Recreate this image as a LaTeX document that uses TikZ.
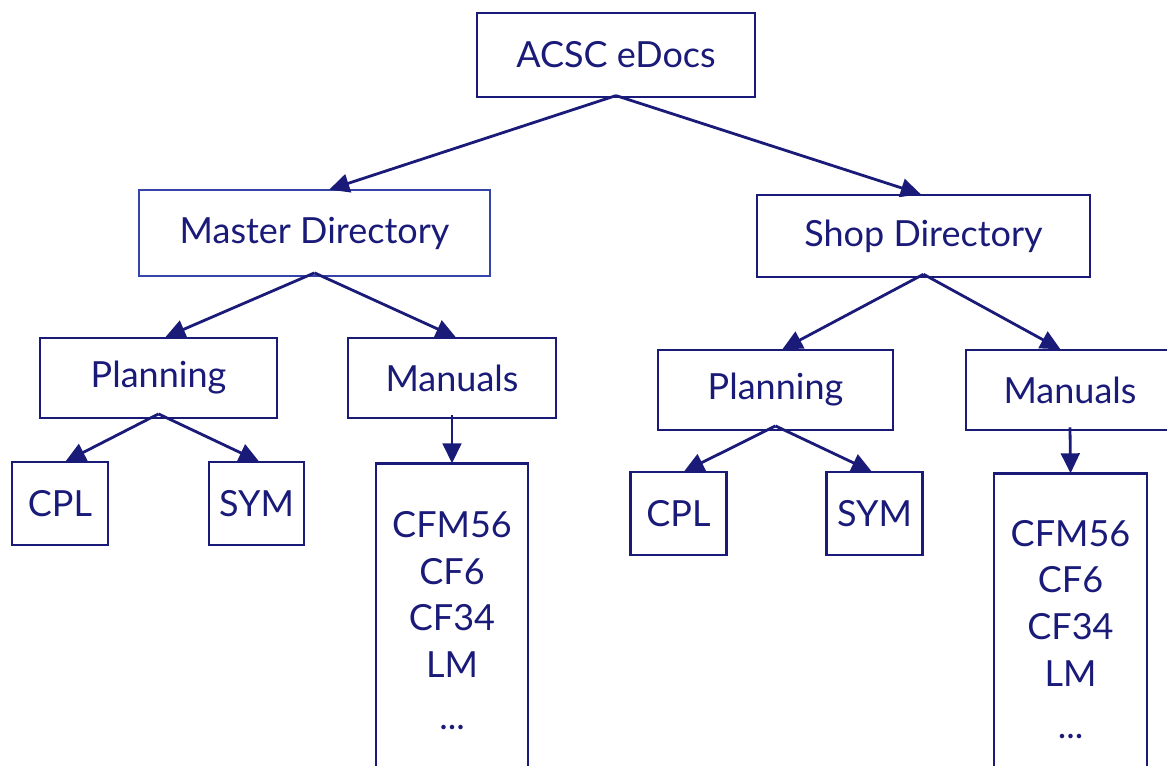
\documentclass[tikz,border=0pt]{standalone}
\usepackage{fontspec}
\setmainfont{Lato}
\usetikzlibrary{arrows.meta}
\definecolor{navy}{RGB}{26,26,120}
\definecolor{lightnavy}{RGB}{52,68,168}
\begin{document}
\begin{tikzpicture}[x=0.75pt,y=0.75pt,yscale=-1,xscale=1,
  box/.style={draw=navy,line width=1.9pt,text=navy,inner sep=0pt,
    font=\fontsize{27}{35}\selectfont},
  arr/.style={draw=navy,line width=2.1pt,-{Triangle[length=15pt,width=14pt]},shorten >=-1pt}]
\path[use as bounding box,clip] (0,0) rectangle (1167,766);

% Top
\node [box,minimum width=208.5pt,minimum height=63pt] (edocs) at (616,55) {ACSC eDocs};
\node [box,draw=lightnavy,line width=1.3pt,minimum width=263pt,minimum height=64.5pt] (master) at (314.5,233) {Master Directory};
\node [box,minimum width=250pt,minimum height=61.5pt] (shop) at (923.5,236) {Shop Directory};

% Master side
\node [box,minimum width=178pt,minimum height=60pt] (planL) at (158.5,378) {Planning};
\node [box,minimum width=156pt,minimum height=60pt] (manL) at (452,378) {Manuals};
\node [box,minimum width=72pt,minimum height=62pt] (cplL) at (60,503.5) {CPL};
\node [box,minimum width=71pt,minimum height=62pt] (symL) at (256.5,503.5) {SYM};
\node [box,align=center,anchor=north,minimum width=114pt,minimum height=236pt] (engL) at (452,462) {CFM56\\CF6\\CF34\\LM\\[4pt]...};

% Shop side
\node [box,minimum width=176pt,minimum height=60pt] (planR) at (775.5,390) {Planning};
\node [box,minimum width=156pt,minimum height=60pt] (manR) at (1070,390) {Manuals};
\node [box,minimum width=72pt,minimum height=62pt] (cplR) at (678.5,513.5) {CPL};
\node [box,minimum width=72pt,minimum height=62pt] (symR) at (874.5,513.5) {SYM};
\node [box,align=center,anchor=north,minimum width=115pt,minimum height=234pt] (engR) at (1070.5,472) {CFM56\\CF6\\CF34\\LM\\[4pt]...};

% Arrows
\draw [arr] ([yshift=-2pt]edocs.south) -- ([xshift=12pt]master.north);
\draw [arr] ([yshift=-2pt]edocs.south) -- ([xshift=-3pt]shop.north);
\draw [arr] ([yshift=-3pt]master.south) -- ([xshift=6pt]planL.north);
\draw [arr] ([yshift=-3pt]master.south) -- ([xshift=2pt]manL.north);
\draw [arr] ([yshift=-4pt]planL.south) -- ([xshift=5pt]cplL.north);
\draw [arr] ([yshift=-4pt]planL.south) -- ([xshift=1pt]symL.north);
\draw [arr] ([yshift=-3pt]manL.south) -- (engL.north);
\draw [arr] ([yshift=-3pt]shop.south) -- ([xshift=6pt]planR.north);
\draw [arr] ([yshift=-3pt]shop.south) -- ([xshift=-8pt]manR.north);
\draw [arr] ([yshift=-4pt]planR.south) -- ([xshift=5pt]cplR.north);
\draw [arr] ([yshift=-4pt]planR.south) -- ([xshift=-3pt]symR.north);
\draw [arr] ([yshift=-3pt]manR.south) -- (engR.north);

\end{tikzpicture}
\end{document}
